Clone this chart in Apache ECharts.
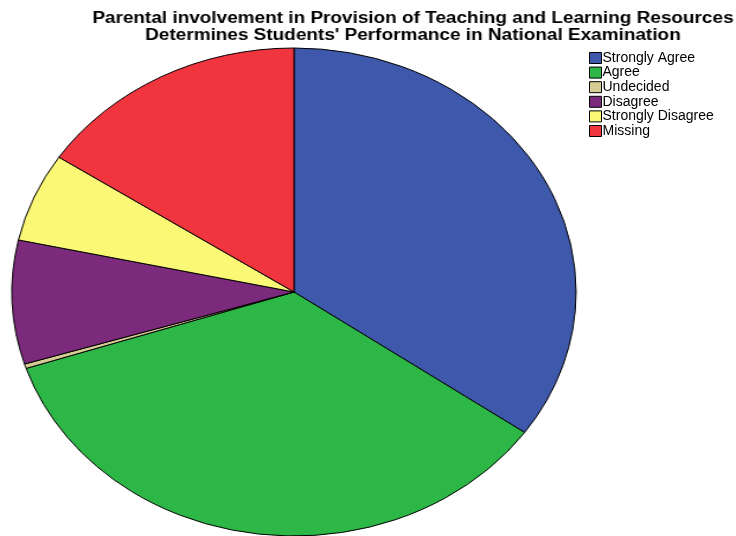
<!DOCTYPE html>
<html>
<head>
<meta charset="utf-8">
<script src="https://cdn.jsdelivr.net/npm/echarts@6/dist/echarts.min.js"></script>
<style>
  body { margin: 0; background: #fff; }
  #wrap { position: relative; width: 736px; height: 536px; overflow: hidden; }
  #pie { position: absolute; left: 26px; top: 0; width: 536px; height: 536px;
         transform-origin: 268px 292px; transform: scaleX(1.156); }
  #title { position: absolute; left: 0; top: 0; width: 736px; height: 60px;
           transform-origin: 0 0; transform: scaleX(1.185); pointer-events: none; }
  #legend { position: absolute; left: 0; top: 0; width: 736px; height: 536px; pointer-events: none; }
</style>
</head>
<body>
<div id="wrap">
  <div id="pie"></div>
  <div id="title"></div>
  <div id="legend"></div>
</div>
<script>
let titleText = 'Parental involvement in Provision of Teaching and Learning Resources\nDetermines Students\' Performance in National Examination';
let categories = ['Strongly Agree', 'Agree', 'Undecided', 'Disagree', 'Strongly Disagree', 'Missing'];
let values = [34.8, 35.2, 0.3, 8.2, 5.9, 15.7];
let colors = ['#3e58ac', '#2db746', '#d6cd94', '#7b2a7c', '#fbf876', '#f0353f'];

let pieData = [];
for (let i = 0; i < categories.length; i++) {
    pieData.push({ name: categories[i], value: values[i] });
}

// pie, stretched sideways by css to get the ellipse
let pieChart = echarts.init(document.getElementById('pie'));
pieChart.setOption({
    animation: false,
    color: colors,
    series: [{
        type: 'pie',
        center: [268, 292],
        radius: [0, 244],
        startAngle: 90,
        clockwise: true,
        data: pieData,
        label: { show: false },
        labelLine: { show: false },
        itemStyle: { borderColor: '#000', borderWidth: 1 },
        emphasis: { disabled: true }
    }]
});

// title, the original text is a bit wide so stretch it too
let titleChart = echarts.init(document.getElementById('title'));
titleChart.setOption({
    animation: false,
    title: {
        text: titleText,
        left: 407 / 1.185,
        textAlign: 'center',
        top: 5,
        textStyle: {
            fontFamily: 'Liberation Sans, Arial, sans-serif',
            fontSize: 16,
            fontWeight: 'bold',
            color: '#000',
            lineHeight: 17
        }
    }
});

// legend
let legendChart = echarts.init(document.getElementById('legend'));
legendChart.setOption({
    animation: false,
    color: colors,
    legend: {
        orient: 'vertical',
        left: 584,
        top: 46,
        icon: 'rect',
        itemWidth: 12,
        itemHeight: 11,
        itemGap: 0.6,
        selectedMode: false,
        data: categories,
        itemStyle: { borderColor: '#000', borderWidth: 1 },
        textStyle: {
            fontFamily: 'Liberation Sans, Arial, sans-serif',
            fontSize: 14,
            lineHeight: 13,
            color: '#000',
            padding: [0, 0, 0, -4]
        }
    },
    series: [{
        type: 'pie',
        radius: [0, 0],
        silent: true,
        data: pieData,
        label: { show: false },
        labelLine: { show: false }
    }]
});
</script>
</body>
</html>
